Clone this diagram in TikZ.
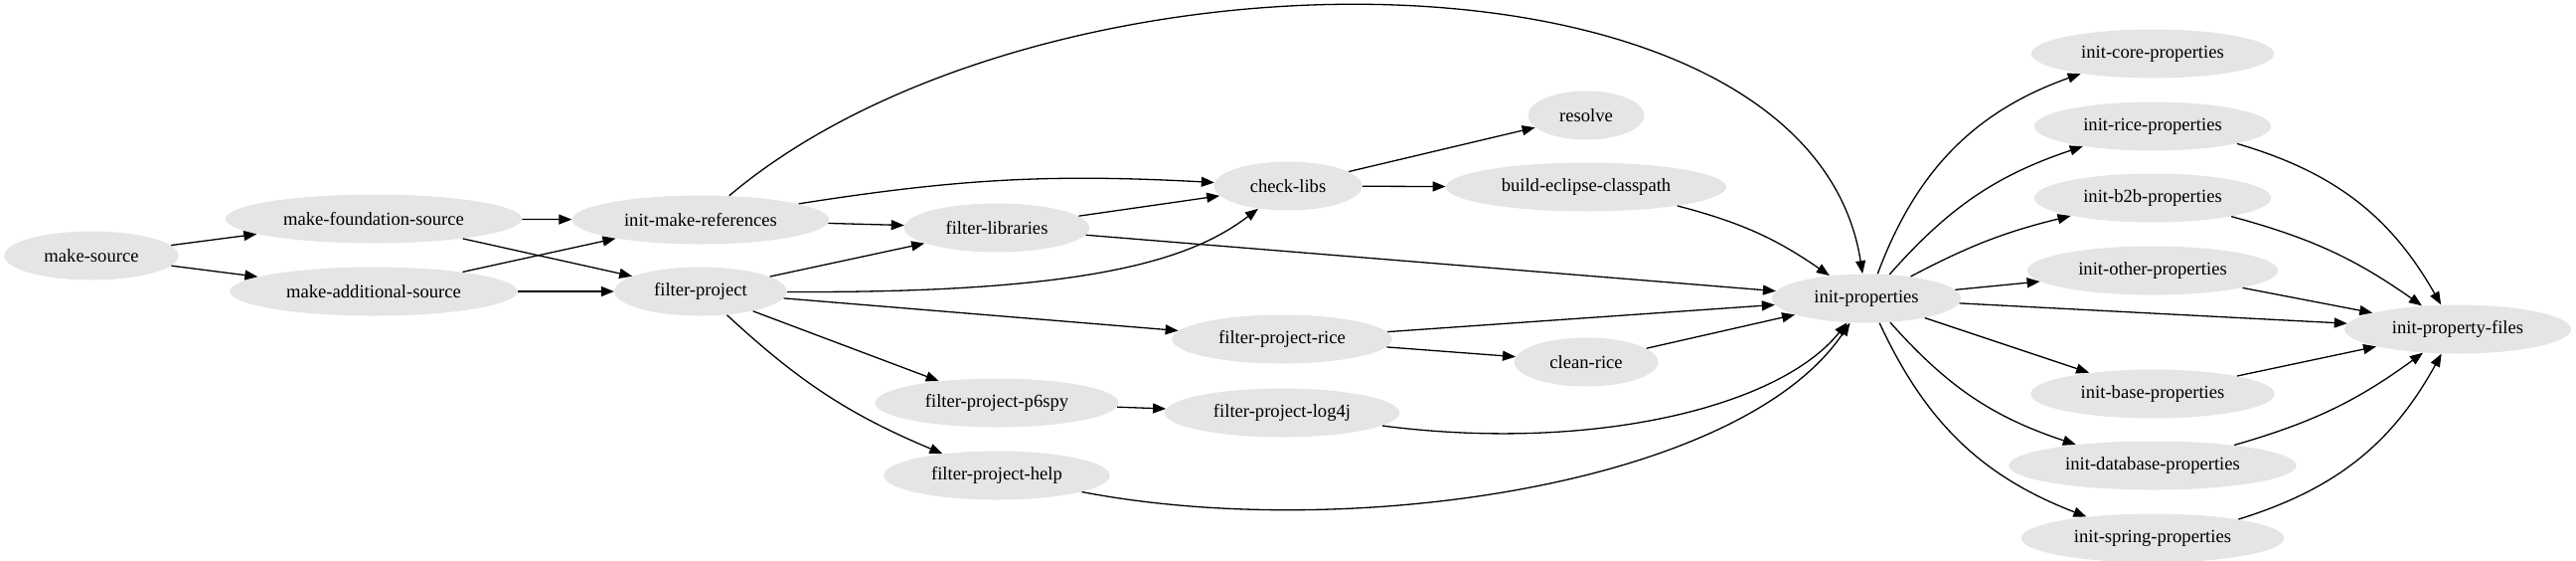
\documentclass[tikz,border=0pt]{standalone}
\usepackage{fontspec}
\setmainfont{Liberation Serif}
\usetikzlibrary{shapes.geometric,arrows.meta}
\begin{document}
\begin{tikzpicture}[x=.5pt, y=-.5pt, >={Triangle[length=6.5pt,width=5pt]},
  task/.style={ellipse, fill=gray!20, inner xsep=7.25pt, inner ysep=2pt, minimum height=24.5pt, font=\fontsize{9.3}{11}\selectfont},
  dep/.style={->, line width=.65pt}]
\useasboundingbox (0,0) rectangle (2592,563);
\node[task] (ms) at (92,257) {make-source};
\node[task] (mfs) at (376,220) {make-foundation-source};
\node[task] (mas) at (376,293) {make-additional-source};
\node[task] (imr) at (705,221) {init-make-references};
\node[task] (fp) at (705,293) {filter-project};
\node[task] (fl) at (1003,229) {filter-libraries};
\node[task] (cl) at (1296,187) {check-libs};
\node[task] (res) at (1596,116) {resolve};
\node[task] (bec) at (1596,188) {build-eclipse-classpath};
\node[task] (fpr) at (1290,341) {filter-project-rice};
\node[task] (cr) at (1596,364) {clean-rice};
\node[task] (fps) at (1003,405) {filter-project-p6spy};
\node[task] (fpl) at (1290,415) {filter-project-log4j};
\node[task] (fph) at (1003,478) {filter-project-help};
\node[task] (ip) at (1878,300) {init-properties};
\node[task] (ipf) at (2473,331) {init-property-files};
\foreach \n/\y in {core/54, rice/127, b2b/199, other/272, base/396, database/468, spring/541}
{
    \node[task] (\n) at (2166,\y) {init-\n-properties};
}
\foreach \a/\b in {ms/mfs, ms/mas, mfs/imr, mfs/fp, mas/imr, mas/fp, imr/fl, fp/fl, fp/fpr, fp/fps, fl/cl, fl/ip, cl/res, cl/bec, fpr/ip, fpr/cr, cr/ip, fps/fpl, ip/ipf}
{
    \draw[dep] (\a) -- (\b);
}
\foreach \n/\b in {core/25, rice/15, b2b/7, other/0, base/0, database/-15, spring/-22}
{
    \draw[dep] (ip) to[bend left=\b] (\n);
}
\foreach \n/\b in {rice/22, b2b/10, other/0, base/0, database/-10, spring/-22}
{
    \draw[dep] (\n) to[bend left=\b] (ipf);
}
\draw[dep] (imr) .. controls (1050,-70) and (1820,-70) .. (ip);
\draw[dep] (imr) to[bend left=6] (cl);
\draw[dep] (fp) .. controls (1100,295) and (1200,260) .. (cl);
\draw[dep] (fp) to[bend right=10] (fph);
\draw[dep] (bec) to[bend left=10] (ip);
\draw[dep] (fpl) .. controls (1600,455) and (1790,410) .. (ip);
\draw[dep] (fph) .. controls (1350,545) and (1750,490) .. (ip);
\end{tikzpicture}
\end{document}
